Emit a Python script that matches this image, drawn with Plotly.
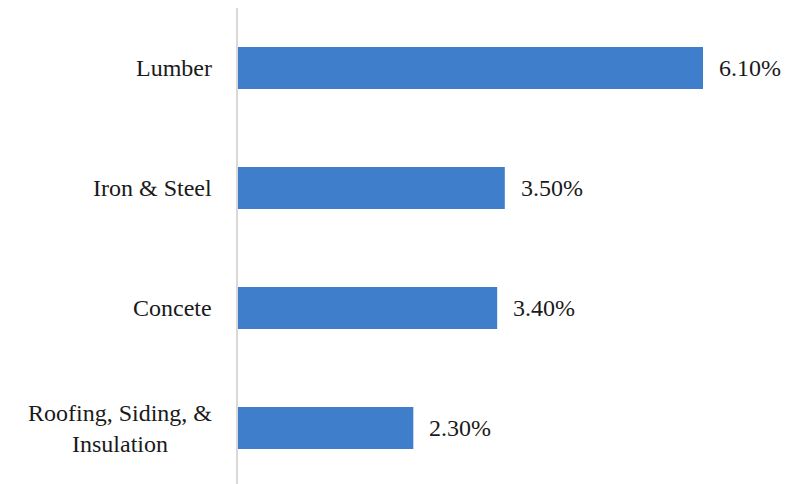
import plotly.graph_objects as go

categories = ["Lumber", "Iron & Steel", "Concete", "Roofing, Siding, &<br>Insulation"]
values = [6.10, 3.50, 3.40, 2.30]
labels = ["6.10%", "3.50%", "3.40%", "2.30%"]

BAR = "#3E7ECA"
FONT = dict(family="Liberation Serif", size=24, color="#1a1a1a")

idx = list(range(len(categories)))

fig = go.Figure()
fig.add_trace(go.Bar(
    x=values, y=idx, orientation="h",
    marker=dict(color=BAR, line=dict(width=0)),
    width=0.35, hoverinfo="skip",
))

annotations = []
for i, (c, v, t) in enumerate(zip(categories, values, labels)):
    annotations.append(dict(x=0, y=i, xref="x", yref="y", text=c, showarrow=False,
                            xanchor="right", yanchor="middle", align="center",
                            xshift=-24, font=FONT))
    annotations.append(dict(x=v, y=i, xref="x", yref="y", text=t, showarrow=False,
                            xanchor="left", yanchor="middle", xshift=14, font=FONT))

fig.update_layout(
    width=794, height=484,
    margin=dict(l=238, r=0, t=8, b=0),
    paper_bgcolor="white", plot_bgcolor="white",
    showlegend=False,
    annotations=annotations,
    xaxis=dict(range=[0, 556 / 76.23], visible=False, showgrid=False, zeroline=False),
    yaxis=dict(range=[-0.5 + 476 / 120, -0.5], showticklabels=False, showgrid=False,
               zeroline=False, showline=True, linecolor="#D9D9D9", linewidth=2,
               ticks=""),
)

fig.write_html("out.html")
